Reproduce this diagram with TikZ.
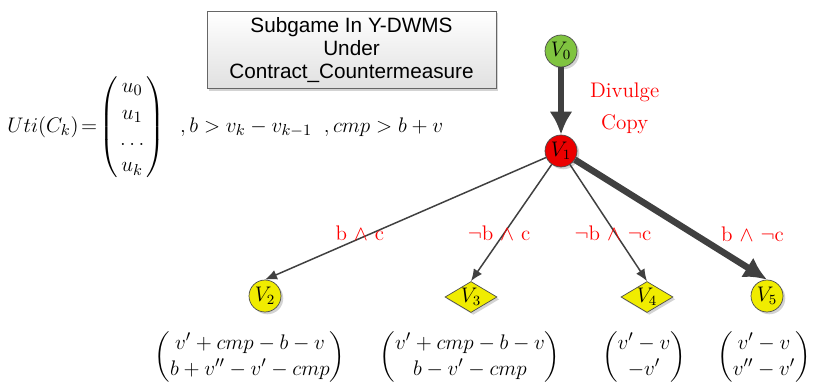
\documentclass[tikz,border=0pt]{standalone}
\usepackage{amsmath}
\usepackage{fontspec}
\usepackage{tikz}
\usetikzlibrary{arrows.meta,positioning,shapes.geometric,shadows}
\newfontfamily\boxfont{Liberation Sans}
\definecolor{stategreen}{RGB}{128,196,64}
\definecolor{statered}{RGB}{235,0,0}
\definecolor{stateyellow}{RGB}{240,236,0}
\definecolor{edgegray}{RGB}{64,64,64}

\begin{document}
\begin{tikzpicture}[
  shade/.style={drop shadow={shadow xshift=1.3pt, shadow yshift=-1.3pt, opacity=0.35}},
  state/.style={circle, draw=black!70, fill=stateyellow, minimum size=0.64cm, inner sep=0pt, font=\fontsize{12}{14}\selectfont, shade},
  leaf/.style={diamond, draw=black!70, fill=stateyellow, minimum width=1.04cm, minimum height=0.62cm, inner sep=0pt, shade},
  titlebox/.style={draw=black!60, top color=white, bottom color=black!12, minimum width=5.78cm, minimum height=1.48cm, align=center, font=\boxfont\fontsize{11.8}{13.3}\selectfont, shade},
  lbl/.style={text=red, font=\fontsize{12}{14}\selectfont},
  edge/.style={-{Latex[length=0.24cm,width=0.2cm]}, draw=edgegray, line width=0.85pt},
  bigedge/.style={-{Latex[length=0.46cm,width=0.46cm]}, draw=edgegray, line width=0.13cm},
  payoff/.style={font=\fontsize{12.5}{15}\selectfont}
]
  \useasboundingbox (0,0) rectangle (16.28,7.7);

  \node[titlebox] (title) at (7.03,6.7) {Subgame In Y-DWMS\\Under\\Contract\_Countermeasure};
  \node[payoff, anchor=west, inner sep=0pt] (uti) at (0.14,5.16) {$Uti(C_k)\!=\!\begin{pmatrix}\,u_0\,\\ \,u_1\,\\ \dots\\ \,u_k\, \end{pmatrix}\;\;,b>v_k-v_{k-1}\;\;,cmp>b+v$};

  \node[state, fill=stategreen] (v0) at (11.22,6.68) {$V_0$};
  \node[state, fill=statered] (v1) at (11.22,4.68) {$V_1$};
  \node[state] (v2) at (5.3,1.78) {$V_2$};
  \node[leaf, label={[font=\fontsize{12}{14}\selectfont]center:$V_3$}] (v3) at (9.42,1.76) {};
  \node[leaf, label={[font=\fontsize{12}{14}\selectfont]center:$V_4$}] (v4) at (12.94,1.76) {};
  \node[state] (v5) at (15.34,1.78) {$V_5$};

  \draw[bigedge] (v0) -- node[lbl, right=0.4cm, yshift=-0.15cm, align=center] {Divulge\\[4pt]Copy} (v1);
  \draw[edge] (v1) -- node[lbl, pos=0.62, xshift=-0.24cm] {b $\wedge$ c} (v2.north);
  \draw[edge] (v1) -- node[lbl, pos=0.59, xshift=-0.1cm] {$\neg$b $\wedge$ c} (v3.north);
  \draw[edge] (v1) -- node[lbl, pos=0.59, xshift=-0.05cm] {$\neg$b $\wedge$ $\neg$c} (v4.north);
  \draw[bigedge] (v1) -- node[lbl, pos=0.62, xshift=1.17cm] {b $\wedge$ $\neg$c} (v5.north);

  \node[payoff] (pay2) at (5.0,0.56) {$\begin{pmatrix} v'+cmp-b-v\\ b+v''-v'-cmp \end{pmatrix}$};
  \node[payoff] (pay3) at (9.4,0.56) {$\begin{pmatrix} v'+cmp-b-v\\ b-v'-cmp \end{pmatrix}$};
  \node[payoff] (pay4) at (12.88,0.56) {$\begin{pmatrix} v'-v\\ -v' \end{pmatrix}$};
  \node[payoff] (pay5) at (15.28,0.56) {$\begin{pmatrix} v'-v\\ v''-v' \end{pmatrix}$};
\end{tikzpicture}
\end{document}
